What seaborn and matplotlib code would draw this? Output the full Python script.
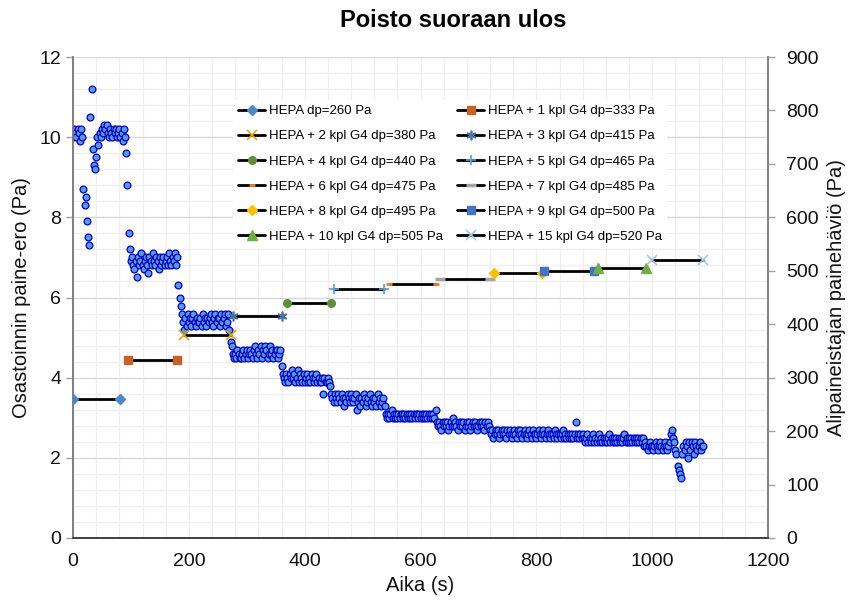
import numpy as np
import matplotlib
matplotlib.use("Agg")
import matplotlib.pyplot as plt
from matplotlib.ticker import MultipleLocator
from matplotlib.lines import Line2D
import seaborn as sns

# Room pressure difference, logged every 2 s (Pa)
sample_interval_s = 2
room_dp = [
    10.0, 10.2, 10.1, 10.0, 10.2, 10.1, 9.9, 10.2, 10.0, 8.7,
    8.3, 8.5, 7.9, 7.5, 7.3, 10.5, 11.2, 9.7, 9.3, 9.2,
    9.5, 10.0, 9.8, 10.1, 10.0, 10.2, 10.1, 10.3, 10.2, 10.3,
    10.1, 10.0, 10.2, 10.1, 10.0, 10.2, 10.1, 10.2, 10.0, 10.1,
    10.2, 10.0, 10.1, 9.9, 10.2, 10.0, 9.6, 8.8, 7.6, 7.2,
    6.9, 7.0, 6.8, 6.7, 6.9, 6.5, 7.0, 6.8, 6.9, 7.1,
    6.8, 6.7, 6.9, 7.0, 6.8, 6.6, 7.0, 6.9, 6.8, 7.1,
    6.9, 6.8, 7.0, 6.9, 6.7, 7.0, 6.8, 6.9, 7.0, 6.8,
    6.9, 7.0, 6.8, 7.1, 6.9, 6.8, 7.0, 6.9, 7.1, 6.8,
    7.0, 6.3, 6.0, 5.8, 5.6, 5.4, 5.2, 5.5, 5.3, 5.6,
    5.4, 5.5, 5.3, 5.5, 5.6, 5.4, 5.3, 5.5, 5.4, 5.4,
    5.5, 5.3, 5.6, 5.4, 5.5, 5.3, 5.5, 5.4, 5.5, 5.6,
    5.4, 5.3, 5.5, 5.6, 5.4, 5.5, 5.5, 5.3, 5.6, 5.4,
    5.5, 5.6, 5.3, 5.4, 5.6, 5.2, 4.9, 4.8, 4.6, 4.5,
    4.6, 4.5, 4.7, 4.6, 4.5, 4.5, 4.6, 4.7, 4.5, 4.6,
    4.7, 4.5, 4.6, 4.7, 4.6, 4.5, 4.7, 4.8, 4.6, 4.5,
    4.7, 4.6, 4.8, 4.5, 4.7, 4.6, 4.8, 4.7, 4.5, 4.6,
    4.8, 4.6, 4.7, 4.5, 4.6, 4.7, 4.7, 4.5, 4.6, 4.7,
    4.3, 4.1, 4.0, 3.9, 4.1, 4.0, 3.9, 4.1, 4.0, 4.2,
    4.0, 4.1, 3.9, 4.0, 4.2, 3.9, 4.1, 4.0, 3.9, 4.1,
    3.9, 4.0, 4.1, 3.9, 4.0, 3.9, 4.1, 4.0, 3.9, 4.0,
    4.1, 3.9, 4.0, 3.9, 3.9, 4.0, 3.6, 4.0, 3.9, 3.9,
    4.0, 3.9, 3.8, 3.6, 3.5, 3.4, 3.6, 3.5, 3.4, 3.6,
    3.5, 3.4, 3.6, 3.5, 3.3, 3.5, 3.4, 3.6, 3.5, 3.4,
    3.6, 3.5, 3.4, 3.5, 3.6, 3.2, 3.4, 3.5, 3.3, 3.5,
    3.4, 3.6, 3.5, 3.3, 3.4, 3.5, 3.6, 3.4, 3.3, 3.5,
    3.4, 3.5, 3.3, 3.6, 3.4, 3.5, 3.3, 3.4, 3.5, 3.3,
    3.1, 3.0, 3.1, 3.0, 3.1, 3.2, 3.0, 3.1, 3.0, 3.1,
    3.0, 3.1, 3.0, 3.1, 3.1, 3.0, 3.1, 3.0, 3.1, 3.0,
    3.1, 3.0, 3.1, 3.0, 3.1, 3.0, 3.1, 3.1, 3.0, 3.1,
    3.0, 3.1, 3.0, 3.1, 3.0, 3.1, 3.0, 3.1, 3.0, 3.1,
    3.0, 3.1, 3.0, 3.2, 2.9, 2.8, 2.9, 2.8, 2.7, 2.9,
    2.8, 2.9, 2.8, 2.9, 2.7, 2.8, 2.9, 2.8, 3.0, 2.8,
    2.9, 2.8, 2.7, 2.9, 2.8, 2.9, 2.8, 2.9, 2.7, 2.8,
    2.9, 2.8, 2.9, 2.7, 2.8, 2.9, 2.8, 2.9, 2.8, 2.7,
    2.8, 2.9, 2.8, 2.9, 2.8, 2.7, 2.9, 2.8, 2.9, 2.8,
    2.7, 2.6, 2.7, 2.5, 2.6, 2.7, 2.6, 2.7, 2.5, 2.6,
    2.7, 2.6, 2.7, 2.6, 2.5, 2.7, 2.6, 2.7, 2.6, 2.5,
    2.6, 2.7, 2.6, 2.5, 2.7, 2.6, 2.7, 2.6, 2.5, 2.6,
    2.7, 2.6, 2.5, 2.6, 2.7, 2.6, 2.5, 2.7, 2.6, 2.6,
    2.5, 2.6, 2.7, 2.6, 2.5, 2.6, 2.7, 2.6, 2.5, 2.6,
    2.7, 2.6, 2.5, 2.6, 2.6, 2.5, 2.7, 2.6, 2.5, 2.6,
    2.6, 2.5, 2.6, 2.7, 2.5, 2.6, 2.5, 2.6, 2.5, 2.6,
    2.5, 2.6, 2.5, 2.6, 2.9, 2.5, 2.6, 2.5, 2.6, 2.5,
    2.6, 2.5, 2.4, 2.5, 2.6, 2.4, 2.5, 2.4, 2.5, 2.6,
    2.4, 2.5, 2.4, 2.5, 2.6, 2.4, 2.5, 2.4, 2.5, 2.4,
    2.5, 2.4, 2.5, 2.6, 2.4, 2.5, 2.4, 2.5, 2.4, 2.5,
    2.4, 2.5, 2.4, 2.5, 2.4, 2.5, 2.6, 2.4, 2.5, 2.4,
    2.5, 2.4, 2.5, 2.4, 2.5, 2.4, 2.5, 2.4, 2.5, 2.4,
    2.5, 2.4, 2.5, 2.3, 2.4, 2.3, 2.2, 2.3, 2.4, 2.3,
    2.3, 2.2, 2.3, 2.4, 2.3, 2.2, 2.3, 2.4, 2.3, 2.2,
    2.3, 2.4, 2.3, 2.2, 2.3, 2.4, 2.6, 2.7, 2.5, 2.4,
    2.2, 2.1, 1.8, 1.7, 1.6, 1.5, 2.1, 2.3, 2.2, 2.4,
    2.3, 2.0, 2.4, 2.2, 2.4, 2.3, 2.1, 2.4, 2.3, 2.2,
    2.3, 2.4, 2.2, 2.3, 2.3,
]
time_s = np.arange(len(room_dp)) * sample_interval_s

# Filter configurations: pressure drop over the negative-pressure unit (Pa)
config_labels = [
    "HEPA dp=260 Pa", "HEPA + 1 kpl G4 dp=333 Pa", "HEPA + 2 kpl G4 dp=380 Pa",
    "HEPA + 3 kpl G4 dp=415 Pa", "HEPA + 4 kpl G4 dp=440 Pa", "HEPA + 5 kpl G4 dp=465 Pa",
    "HEPA + 6 kpl G4 dp=475 Pa", "HEPA + 7 kpl G4 dp=485 Pa", "HEPA + 8 kpl G4 dp=495 Pa",
    "HEPA + 9 kpl G4 dp=500 Pa", "HEPA + 10 kpl G4 dp=505 Pa", "HEPA + 15 kpl G4 dp=520 Pa",
]
config_dp = [260, 333, 380, 415, 440, 465, 475, 485, 495, 500, 505, 520]
config_start_s = [0, 95, 192, 276, 370, 451, 546, 634, 727, 813, 907, 1000]
config_end_s = [81, 180, 272, 361, 446, 537, 627, 720, 810, 900, 990, 1088]

marker_styles = [
    dict(marker="D", ms=5.0, mfc="#4f86c6", mec="#4f86c6"),
    dict(marker="s", ms=5.5, mfc="#c5622a", mec="#c5622a"),
    dict(marker="x", ms=6.5, mfc="none", mec="#e2a61c", mew=1.2),
    dict(marker=(6, 2, 0), ms=7, mfc="none", mec="#4a6fa0", mew=1.2),
    dict(marker="o", ms=5.5, mfc="#5f8f3e", mec="#5f8f3e"),
    dict(marker="+", ms=7, mfc="none", mec="#5b9bd5", mew=1.2),
    dict(marker="_", ms=4, mfc="none", mec="#ed7d31", mew=2),
    dict(marker="_", ms=7, mfc="none", mec="#a5a5a5", mew=2.5),
    dict(marker="D", ms=5.0, mfc="#ffc000", mec="#ffc000"),
    dict(marker="s", ms=5.5, mfc="#4472c4", mec="#4472c4"),
    dict(marker="^", ms=6.5, mfc="#70ad47", mec="#70ad47"),
    dict(marker="x", ms=6.5, mfc="none", mec="#a9c4e8", mew=1.2),
]

sns.set_theme(style="white")
plt.rcParams["font.family"] = ["Liberation Sans", "DejaVu Sans"]

fig = plt.figure(figsize=(8.56, 6.06), dpi=100)
ax1 = fig.add_axes([73 / 856, 68 / 606, 695 / 856, 481 / 606])

sns.scatterplot(x=time_s, y=room_dp, ax=ax1, s=24, color="#5b9bd5",
                edgecolor="#0000cc", linewidth=0.9, legend=False, zorder=3)

ax1.set_xlim(0, 1200)
ax1.set_ylim(0, 12)
ax1.xaxis.set_major_locator(MultipleLocator(200))
ax1.xaxis.set_minor_locator(MultipleLocator(40))
ax1.yaxis.set_major_locator(MultipleLocator(2))
ax1.yaxis.set_minor_locator(MultipleLocator(0.4))
ax1.grid(which="minor", color="#efefef", linewidth=0.9)
ax1.grid(which="major", axis="x", color="#efefef", linewidth=0.9)
ax1.grid(which="major", axis="y", color="#d9d9d9", linewidth=1.0)
ax1.set_axisbelow(True)

ax2 = ax1.twinx()
ax2.set_ylim(0, 900)
ax2.yaxis.set_major_locator(MultipleLocator(100))

handles = []
for lab, dp, t0, t1, st in zip(config_labels, config_dp, config_start_s,
                                config_end_s, marker_styles):
    sns.lineplot(x=[t0, t1], y=[dp, dp], ax=ax2, color="black", linewidth=2.0,
                 marker=st["marker"], markersize=st["ms"],
                 markerfacecolor=st["mfc"], markeredgecolor=st["mec"],
                 markeredgewidth=st.get("mew", 1.0), zorder=4)
    handles.append(Line2D([], [], color="black", linewidth=2.0,
                          marker=st["marker"], markersize=st["ms"],
                          markerfacecolor=st["mfc"], markeredgecolor=st["mec"],
                          markeredgewidth=st.get("mew", 1.0)))

order = [0, 2, 4, 6, 8, 10, 1, 3, 5, 7, 9, 11]
leg = ax2.legend([handles[i] for i in order], [config_labels[i] for i in order],
                 ncol=2, loc="upper left", bbox_to_anchor=(0.221, 0.925),
                 frameon=True, facecolor="white", edgecolor="none", framealpha=1,
                 fontsize=9.5, handlelength=2.0, handletextpad=0.3,
                 columnspacing=1.1, labelspacing=0.98, borderpad=0.4)
for txt in leg.get_texts():
    txt.set_color("black")

for ax in (ax1, ax2):
    ax.tick_params(which="major", length=5, width=1, color="#a0a0a0",
                   labelsize=14, labelcolor="#111111", direction="out")
    ax.tick_params(which="minor", length=0)
    ax.spines["top"].set_visible(False)
    ax.spines["left"].set_color("#7f7f7f")
    ax.spines["right"].set_color("#7f7f7f")
    ax.spines["bottom"].set_color("#404040")
    for sp in ax.spines.values():
        sp.set_linewidth(1.2)

ax1.tick_params(axis="x", pad=6)
ax2.tick_params(axis="y", pad=8)
ax1.set_xlabel("Aika (s)", fontsize=14.5, color="#111111", labelpad=4)
ax1.set_ylabel("Osastoinnin paine-ero (Pa)", fontsize=14.5, color="#111111", labelpad=6)
ax2.set_ylabel("Alipaineistajan painehäviö (Pa)", fontsize=14.5, color="#111111", labelpad=6)
fig.suptitle("Poisto suoraan ulos", x=0.53, y=0.985, fontsize=17,
             fontweight="bold", color="black")

fig.savefig("out.png", dpi=100)
